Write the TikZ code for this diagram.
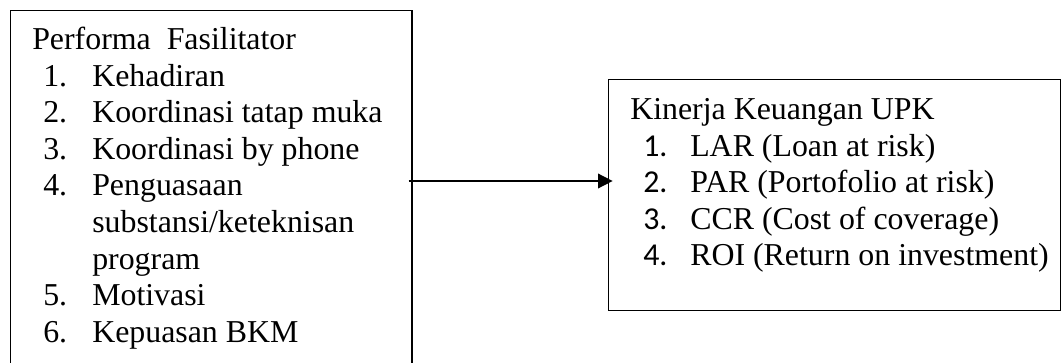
\documentclass[tikz,border=0pt]{standalone}
\usepackage{fontspec}
\setmainfont{Liberation Serif}
\newfontfamily\calfont{Carlito}
\usetikzlibrary{arrows.meta}
\begin{document}
\begin{tikzpicture}[x=0.75pt,y=-0.75pt,
  box/.style={draw, line width=1.1pt, inner sep=0pt, anchor=north west},
  txt/.style={anchor=base west, inner sep=0pt, font=\fontsize{23.9}{27}\selectfont},
  arr/.style={line width=1.1pt, -{Triangle[length=11pt,width=11pt]}}]
\useasboundingbox (0,0) rectangle (1063,363);
% boxes
\node[box, minimum width=301.1pt, minimum height=280pt] (L) at (10,10) {};
\node[box, minimum width=339pt, minimum height=173.25pt] (R) at (608,79) {};
% left texts
\node[txt] (lt) at (32,50) {Performa\ \ Fasilitator};
\node[txt] (ln1) at (43,86.5) {1.};
\node[txt] (li1) at (92,86.5) {Kehadiran};
\node[txt] (ln2) at (43,123) {2.};
\node[txt] (li2) at (92,123) {Koordinasi tatap muka};
\node[txt] (ln3) at (43,159.5) {3.};
\node[txt] (li3) at (92,159.5) {Koordinasi by phone};
\node[txt] (ln4) at (43,196) {4.};
\node[txt] (li4) at (92,196) {Penguasaan};
\node[txt] (li4b) at (92,232.5) {substansi/keteknisan};
\node[txt] (li4c) at (92,269) {program};
\node[txt] (ln5) at (43,305.5) {5.};
\node[txt] (li5) at (92,305.5) {Motivasi};
\node[txt] (ln6) at (43,342) {6.};
\node[txt] (li6) at (92,342) {Kepuasan BKM};
% right texts
\node[txt] (rt) at (630,120) {Kinerja Keuangan UPK};
\node[txt] (rn1) at (643,156.5) {\calfont 1.};
\node[txt] (ri1) at (690,156.5) {LAR (Loan at risk)};
\node[txt] (rn2) at (643,193) {\calfont 2.};
\node[txt] (ri2) at (690,193) {PAR (Portofolio at risk)};
\node[txt] (rn3) at (643,229.5) {\calfont 3.};
\node[txt] (ri3) at (690,229.5) {CCR (Cost of coverage)};
\node[txt] (rn4) at (643,266) {\calfont 4.};
\node[txt] (ri4) at (690,266) {ROI (Return on investment)};
% arrow
\coordinate (a1) at ([xshift=-3.3pt]L.east |- 0,181);
\coordinate (a2) at ([xshift=3.5pt]R.west |- 0,181);
\draw[arr] (a1) -- (a2);
\end{tikzpicture}
\end{document}
